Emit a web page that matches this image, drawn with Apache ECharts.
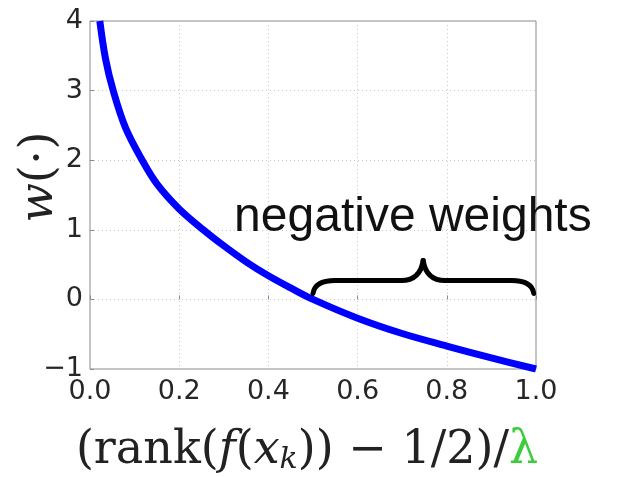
<!DOCTYPE html>
<html>
<head>
<meta charset="utf-8">
<script src="https://cdn.jsdelivr.net/npm/echarts@6/dist/echarts.min.js"></script>
<style>html,body{margin:0;padding:0;background:#fff}#c{width:625px;height:477px}</style>
</head>
<body>
<div id="c"></div>
<script>
// curve: x = (rank - 1/2)/lambda, y = w(.)
var xValues = [0.022, 0.035, 0.052, 0.08, 0.117, 0.15, 0.2, 0.256, 0.3, 0.35, 0.4, 0.45, 0.5, 0.6, 0.7, 0.8, 0.9, 1.0];
var yValues = [4.0, 3.45, 3.0, 2.46, 2.0, 1.66, 1.3, 0.99, 0.77, 0.54, 0.34, 0.165, 0.0, -0.27, -0.49, -0.67, -0.84, -1.0];
var xTicks = ['0.0', '0.2', '0.4', '0.6', '0.8', '1.0'];
var yTicks = ['\u22121', '0', '1', '2', '3', '4'];
var annotationText = 'negative weights';
// brace span in data units (from x, to x, tip x)
var braceX = [0.5, 0.995, 0.747];
var braceY = [0.086, 0.27, 0.56];
var annotationPos = [0.724, 1.18];

var chart = echarts.init(document.getElementById('c'));
var serif = '"DejaVu Serif", "Liberation Serif", serif';
var seriesData = xValues.map(function (x, i) { return [x, yValues[i]]; });

chart.setOption({
  animation: false,
  backgroundColor: '#fff',
  grid: { left: 90, right: 89, top: 21, bottom: 108, show: true, borderColor: '#8a8a8a', borderWidth: 1,
    containLabel: false, outerBoundsMode: 'none' },
  xAxis: {
    type: 'value', min: 0, max: 1, interval: 0.2,
    axisLine: { show: false },
    axisTick: { show: true, inside: true, length: 4, lineStyle: { color: '#8a8a8a' } },
    splitLine: { show: true, lineStyle: { color: '#c8c8c8', type: [1, 3], width: 1 } },
    axisLabel: { margin: 9, fontFamily: '"DejaVu Sans", sans-serif', fontSize: 27, color: '#262626',
      formatter: function (v) { return xTicks[Math.round(v / 0.2)]; } },
    name: '{p|(rank(}{i|f}{p|(}{i|x}{s|k}{p|)) \u2212 1/2)/}{g|\u03bb}',
    nameLocation: 'middle', nameGap: 59, nameMoveOverlap: false,
    nameTextStyle: {
      padding: [0, 12, 0, 0],
      rich: {
        p: { fontFamily: serif, fontSize: 46, color: '#222' },
        i: { fontFamily: serif, fontStyle: 'italic', fontSize: 46, color: '#222' },
        s: { fontFamily: serif, fontStyle: 'italic', fontSize: 30, color: '#222', verticalAlign: 'bottom', padding: [17, 0, 0, 0] },
        g: { fontFamily: serif, fontSize: 46, color: '#3ccc3c' }
      }
    }
  },
  yAxis: {
    type: 'value', min: -1, max: 4, interval: 1,
    axisLine: { show: false },
    axisTick: { show: true, inside: true, length: 4, lineStyle: { color: '#8a8a8a' } },
    splitLine: { show: true, lineStyle: { color: '#c8c8c8', type: [1, 3], width: 1 } },
    axisLabel: { margin: 7, fontFamily: '"DejaVu Sans", sans-serif', fontSize: 27, color: '#262626',
      formatter: function (v) { return yTicks[Math.round(v + 1)]; } },
    name: '{i|w}{p|(\u22c5)}',
    nameLocation: 'middle', nameGap: 27, nameRotate: 90, nameMoveOverlap: false,
    nameTextStyle: {
      padding: [0, 0, 0, 36],
      rich: {
        i: { fontFamily: serif, fontStyle: 'italic', fontSize: 46, color: '#222' },
        p: { fontFamily: serif, fontSize: 46, color: '#222' }
      }
    }
  },
  series: [{
    type: 'line', data: seriesData, showSymbol: false, symbol: 'none',
    smooth: 0.35, clip: true,
    lineStyle: { color: '#0000ff', width: 7 }
  }]
});

function px(x, y) { return chart.convertToPixel({ gridIndex: 0 }, [x, y]); }
var L = px(braceX[0], braceY[0]), R = px(braceX[1], braceY[0]);
var H = px(braceX[2], braceY[1]), T = px(braceX[2], braceY[2]);
var hy = H[1], tx = T[0], ty = T[1];
var braceStyle = { fill: null, stroke: '#000', lineWidth: 5, lineCap: 'round' };
function curve(x1, y1, cx, cy, x2, y2) {
  return { type: 'bezierCurve', shape: { x1: x1, y1: y1, cpx1: cx, cpy1: cy, x2: x2, y2: y2 }, style: braceStyle, z: 10 };
}
function seg(x1, y1, x2, y2) {
  return { type: 'line', shape: { x1: x1, y1: y1, x2: x2, y2: y2 }, style: braceStyle, z: 10 };
}
var A = px(annotationPos[0], annotationPos[1]);

chart.setOption({
  graphic: [
    curve(L[0], L[1], L[0] + 2, hy, L[0] + 22, hy),
    seg(L[0] + 22, hy, tx - 22, hy),
    curve(tx - 22, hy, tx - 3, hy, tx, ty),
    curve(tx, ty, tx + 3, hy, tx + 22, hy),
    seg(tx + 22, hy, R[0] - 22, hy),
    curve(R[0] - 22, hy, R[0] - 2, hy, R[0], R[1]),
    { type: 'text', x: A[0], y: A[1], style: { text: annotationText, fontFamily: '"Liberation Sans", Arial, sans-serif', fontSize: 48, fill: '#111', align: 'center', verticalAlign: 'middle' }, z: 10 }
  ]
});
</script>
</body>
</html>
